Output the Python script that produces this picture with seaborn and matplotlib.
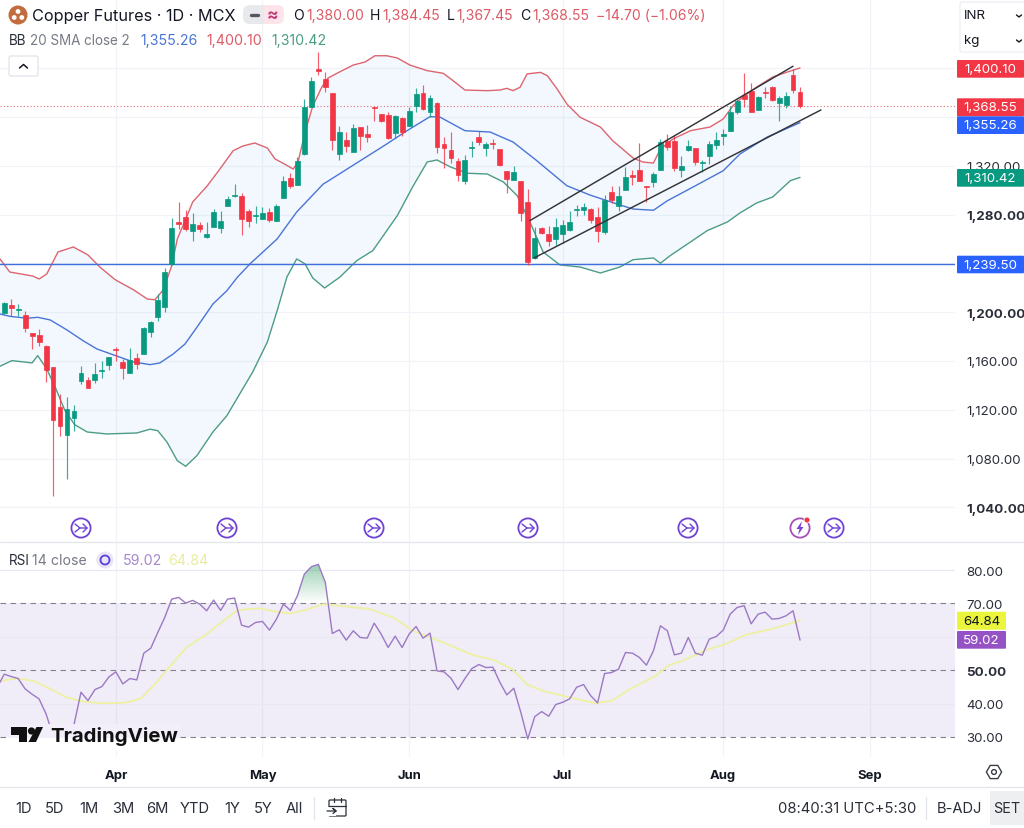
import numpy as np
import pandas as pd
import seaborn as sns
import matplotlib
matplotlib.use('Agg')
import matplotlib.pyplot as plt
from matplotlib.patches import Circle, FancyBboxPatch, Polygon, Rectangle

# Daily candles, one entry per bar
opens = [1199.1, 1206.1, 1201.5, 1197.9, 1183.2, 1181.1, 1172.5, 1154.9, 1122.1, 1099.1,
         1113.1, 1143.9, 1144.2, 1144.2, 1152.1, 1156.5, 1170.1, 1159.0, 1149.9, 1162.2,
         1166.0, 1183.8, 1196.3, 1204.0, 1239.5, 1274.1, 1277.7, 1266.8, 1271.7, 1261.9,
         1269.6, 1269.0, 1287.2, 1295.2, 1295.2, 1282.7, 1278.8, 1276.6, 1281.8, 1274.5,
         1293.6, 1309.9, 1304.5, 1329.6, 1368.4, 1399.2, 1391.1, 1379.8, 1329.9, 1341.1,
         1331.2, 1351.5, 1346.0, 1368.1, 1362.1, 1361.3, 1347.1, 1359.1, 1352.8, 1369.2,
         1379.6, 1364.0, 1371.4, 1337.6, 1333.1, 1324.1, 1307.7, 1334.8, 1343.3, 1334.8,
         1338.4, 1333.5, 1315.9, 1308.1, 1307.7, 1290.0, 1244.2, 1269.2, 1264.3, 1260.0,
         1264.3, 1267.3, 1284.0, 1284.0, 1284.5, 1277.7, 1266.0, 1298.7, 1287.2, 1299.9,
         1312.6, 1316.7, 1303.6, 1306.7, 1316.7, 1340.3, 1340.0, 1316.5, 1332.6, 1334.3,
         1322.5, 1327.7, 1337.2, 1344.6, 1348.7, 1364.3, 1377.7, 1381.0, 1365.4, 1380.4,
         1384.5, 1371.1, 1369.8, 1394.3, 1380.0]
highs = [1208.6, 1210.8, 1206.7, 1201.2, 1183.2, 1186.5, 1173.1, 1154.9, 1133.0, 1130.3,
         1124.2, 1155.7, 1147.2, 1158.1, 1160.3, 1163.0, 1171.2, 1161.7, 1170.7, 1166.6,
         1187.9, 1192.8, 1214.9, 1235.9, 1276.9, 1290.0, 1284.0, 1281.3, 1274.1, 1274.1,
         1284.5, 1282.9, 1295.4, 1305.0, 1297.7, 1284.5, 1286.8, 1285.9, 1285.1, 1288.6,
         1311.8, 1314.0, 1327.4, 1374.7, 1392.9, 1412.9, 1397.0, 1379.8, 1352.8, 1347.4,
         1354.2, 1351.5, 1353.1, 1368.4, 1362.6, 1364.3, 1361.6, 1359.7, 1367.9, 1383.7,
         1386.1, 1378.2, 1372.0, 1343.3, 1347.9, 1326.3, 1329.0, 1340.0, 1348.5, 1339.7,
         1341.9, 1333.5, 1315.9, 1320.0, 1307.7, 1300.7, 1269.6, 1270.0, 1270.9, 1277.2,
         1275.8, 1283.2, 1288.1, 1289.5, 1285.4, 1286.2, 1296.3, 1303.6, 1303.6, 1319.2,
         1316.5, 1338.6, 1303.6, 1314.6, 1341.9, 1346.0, 1345.2, 1328.2, 1341.3, 1334.3,
         1324.7, 1340.0, 1347.4, 1350.1, 1368.7, 1374.7, 1396.0, 1387.5, 1377.4, 1384.7,
         1385.1, 1377.4, 1380.7, 1399.2, 1384.45]
lows = [1198.5, 1197.1, 1196.6, 1183.5, 1169.8, 1172.5, 1143.0, 1049.2, 1098.8, 1063.3,
        1102.9, 1141.2, 1138.1, 1141.8, 1145.8, 1152.9, 1160.3, 1145.3, 1149.9, 1153.5,
        1166.0, 1179.9, 1192.8, 1199.9, 1238.7, 1268.2, 1266.5, 1258.6, 1265.9, 1260.8,
        1269.6, 1264.6, 1286.8, 1294.6, 1263.2, 1270.0, 1272.8, 1276.4, 1273.7, 1274.5,
        1293.6, 1301.8, 1304.5, 1329.0, 1368.4, 1394.6, 1380.2, 1333.1, 1324.7, 1331.5,
        1331.2, 1332.9, 1339.7, 1356.9, 1356.1, 1341.9, 1342.7, 1344.6, 1352.3, 1363.8,
        1365.9, 1359.7, 1330.4, 1318.2, 1322.2, 1307.7, 1305.0, 1326.9, 1337.2, 1327.7,
        1333.7, 1319.8, 1297.7, 1308.1, 1274.5, 1238.9, 1243.6, 1264.1, 1254.5, 1255.3,
        1256.7, 1266.8, 1278.6, 1279.9, 1273.1, 1257.8, 1264.1, 1289.5, 1283.2, 1299.9,
        1304.5, 1307.2, 1290.5, 1302.3, 1316.7, 1333.1, 1315.4, 1310.5, 1332.3, 1320.8,
        1315.1, 1321.4, 1333.7, 1337.0, 1348.7, 1362.4, 1367.9, 1364.3, 1365.4, 1375.5,
        1373.3, 1356.9, 1367.0, 1379.6, 1367.45]
closes = [1207.5, 1203.2, 1202.4, 1186.8, 1180.7, 1175.8, 1152.6, 1111.7, 1107.0, 1120.4,
          1118.8, 1150.2, 1138.1, 1149.6, 1152.9, 1163.0, 1169.3, 1154.3, 1160.6, 1157.8,
          1187.3, 1192.2, 1209.7, 1233.2, 1268.7, 1272.5, 1268.2, 1272.3, 1268.2, 1264.1,
          1282.3, 1274.5, 1292.5, 1296.0, 1276.4, 1274.5, 1279.6, 1281.3, 1275.5, 1287.0,
          1307.7, 1303.1, 1323.6, 1368.4, 1389.4, 1397.9, 1384.8, 1340.8, 1347.4, 1336.4,
          1350.9, 1344.4, 1343.8, 1367.3, 1356.6, 1343.0, 1360.5, 1347.6, 1364.8, 1378.5,
          1366.7, 1375.7, 1335.3, 1334.5, 1326.6, 1312.4, 1324.4, 1335.6, 1339.4, 1337.6,
          1337.6, 1320.6, 1308.9, 1314.6, 1281.3, 1241.4, 1260.8, 1265.1, 1258.6, 1269.6,
          1271.2, 1273.9, 1284.8, 1286.4, 1275.3, 1266.8, 1292.2, 1292.2, 1295.4, 1311.0,
          1311.0, 1307.2, 1302.6, 1313.5, 1339.7, 1335.6, 1318.1, 1320.0, 1336.2, 1323.1,
          1323.3, 1337.6, 1341.1, 1346.2, 1364.3, 1373.3, 1374.7, 1364.3, 1376.1, 1379.3,
          1373.9, 1375.2, 1377.4, 1382.0, 1368.55]

# Bollinger bands, read at the bends of each curve (bar position, price)
upper_bars = [-0.6, 0.8, 4.1, 5.0, 6.1, 7.7, 9.9, 12.0, 13.7, 15.9, 18.5, 20.5, 21.6, 22.8, 24.0,
              24.8, 26.2, 27.0, 29.1, 30.9, 32.8, 34.2, 35.9, 37.7, 38.8, 39.9, 41.4, 42.1, 43.1,
              44.2, 45.5, 46.4, 48.1, 50.0, 51.7, 53.1, 54.8, 56.3, 58.1, 60.6, 62.9, 64.3, 66.0,
              69.2, 71.0, 72.0, 72.9, 73.9, 74.9, 76.8, 77.8, 79.2, 80.6, 82.5, 85.4, 87.2, 90.1,
              91.5, 93.0, 94.0, 95.8, 98.3, 101.1, 103.0, 104.4, 105.8, 107.8, 110.1, 112.2, 114.0]
upper_vals = [1243.6, 1232.9, 1229.6, 1227.2, 1231.3, 1249.3, 1253.4, 1246.9, 1237.0, 1226.6, 1218.4,
              1210.8, 1210.2, 1218.4, 1238.1, 1260.0, 1279.0, 1290.3, 1303.6, 1317.3, 1332.3, 1336.2,
              1338.6, 1334.5, 1325.5, 1322.2, 1317.3, 1323.1, 1347.6, 1368.9, 1384.5, 1391.9, 1397.0,
              1402.5, 1405.0, 1410.1, 1410.1, 1408.3, 1402.5, 1397.9, 1395.7, 1389.7, 1382.0, 1381.5,
              1382.0, 1383.4, 1381.5, 1384.3, 1395.2, 1396.5, 1393.8, 1382.9, 1370.6, 1359.7, 1351.7,
              1340.3, 1326.3, 1323.0, 1322.2, 1333.7, 1341.9, 1348.7, 1351.7, 1358.3, 1369.2, 1376.3,
              1384.5, 1392.7, 1396.8, 1400.1]
middle_bars = [-0.6, 0.8, 3.3, 4.8, 6.6, 9.0, 11.3, 13.3, 16.2, 18.5, 20.9, 22.3, 24.2, 25.9, 27.6,
               29.9, 31.9, 33.4, 35.2, 39.1, 41.9, 45.7, 46.2, 51.4, 54.8, 57.7, 61.0, 62.4, 66.0,
               69.6, 72.9, 76.3, 80.6, 83.9, 87.8, 90.1, 93.0, 95.0, 98.7, 103.0, 105.4, 109.3, 114.0]
middle_vals = [1198.5, 1196.6, 1195.0, 1195.8, 1193.6, 1185.4, 1176.6, 1169.8, 1163.9, 1159.2, 1157.0,
               1158.4, 1165.7, 1173.9, 1187.6, 1206.7, 1217.6, 1228.6, 1239.5, 1260.0, 1282.1, 1305.0,
               1306.7, 1325.5, 1337.8, 1348.7, 1360.2, 1359.9, 1348.7, 1347.6, 1339.4, 1324.1, 1303.6,
               1296.0, 1288.6, 1284.5, 1283.5, 1291.3, 1302.6, 1315.9, 1329.6, 1343.5, 1355.26]
lower_bars = [-0.6, 1.1, 4.0, 4.8, 6.1, 7.3, 8.7, 10.1, 11.9, 14.7, 19.0, 20.9, 22.0, 23.3, 24.8,
              26.0, 27.6, 29.9, 31.9, 35.6, 37.7, 39.1, 40.5, 41.9, 43.1, 44.2, 45.9, 48.1, 50.5,
              52.8, 56.3, 58.6, 60.6, 62.0, 63.9, 66.4, 69.2, 71.5, 73.5, 75.3, 77.2, 79.6, 82.5,
              85.4, 88.2, 90.1, 93.0, 94.0, 95.4, 98.3, 100.7, 103.6, 105.4, 107.8, 110.1, 112.6, 114.0]
lower_vals = [1155.7, 1160.3, 1158.4, 1164.4, 1153.4, 1138.7, 1119.3, 1107.8, 1101.8, 1100.2, 1101.0,
              1104.1, 1102.9, 1093.7, 1078.3, 1073.7, 1082.4, 1101.8, 1115.2, 1151.0, 1175.6, 1201.2,
              1228.8, 1243.6, 1239.5, 1228.0, 1219.8, 1228.8, 1242.2, 1250.4, 1279.0, 1303.6, 1323.1,
              1324.7, 1319.0, 1313.8, 1313.2, 1306.7, 1295.4, 1273.9, 1249.3, 1238.7, 1237.0, 1232.1,
              1237.0, 1243.0, 1244.4, 1240.1, 1246.3, 1257.5, 1266.8, 1273.9, 1281.3, 1289.5, 1294.4,
              1307.7, 1310.42]

# Hand drawn channel, horizontal level and last price
channel_top_bars = [75.3, 113.0]
channel_top_vals = [1275.0, 1401.5]
channel_bottom_bars = [75.9, 117.0]
channel_bottom_vals = [1244.4, 1365.7]
level_price = 1239.50
last_price = 1368.55

# RSI per bar, plus its moving average read at the bends
rsi_bars = [-0.6] + list(range(115))
rsi_vals = [46.4, 48.8, 48.1, 47.5, 44.4, 42.8, 41.4, 36.9, 30.4, 29.4, 33.6,
            33.7, 43.4, 40.9, 44.2, 45.1, 48.0, 49.5, 45.9, 47.5, 47.1,
            55.1, 56.6, 61.3, 65.8, 71.3, 71.8, 70.1, 70.9, 69.8, 67.8,
            71.0, 67.9, 71.3, 71.6, 63.5, 62.9, 64.3, 64.6, 62.0, 65.3,
            69.8, 67.9, 72.3, 78.8, 81.0, 81.7, 76.3, 61.0, 62.1, 59.0,
            61.8, 59.8, 59.6, 64.1, 60.8, 56.8, 60.2, 56.8, 60.8, 63.1,
            59.6, 61.1, 49.8, 49.5, 47.6, 44.2, 47.5, 50.5, 51.7, 50.8,
            50.9, 46.4, 42.6, 44.6, 37.4, 29.4, 36.1, 37.6, 36.2, 39.7,
            40.4, 41.4, 44.9, 45.7, 42.4, 40.2, 49.0, 49.3, 50.3, 55.3,
            55.1, 53.8, 51.5, 55.8, 63.3, 61.8, 54.6, 55.1, 59.8, 55.1,
            54.5, 59.3, 60.1, 62.0, 66.8, 68.8, 69.3, 63.9, 66.8, 67.4,
            65.3, 65.5, 66.3, 67.8, 59.02]
rsi_ma_bars = [-0.6, 1.8, 4.2, 6.6, 8.9, 11.3, 14.2, 17.1, 19.5, 21.4, 23.8, 26.1, 29.0, 31.4, 33.3,
               34.7, 36.6, 39.0, 41.0, 43.3, 45.7, 48.1, 52.4, 55.7, 58.6, 62.9, 67.2, 70.1, 72.8,
               74.9, 77.5, 80.9, 84.7, 87.1, 89.5, 93.3, 95.2, 97.1, 100.9, 103.3, 106.2, 109.5, 114.0]
rsi_ma_vals = [46.8, 47.5, 46.8, 44.4, 41.9, 40.6, 40.1, 40.2, 41.4, 45.4, 51.3, 56.8, 60.8, 64.8, 67.8,
               68.3, 68.5, 67.5, 67.0, 68.1, 69.8, 69.3, 68.3, 65.8, 61.8, 58.3, 54.5, 53.1, 50.3,
               45.7, 43.6, 41.9, 40.1, 40.9, 44.2, 48.3, 51.5, 52.8, 56.3, 57.8, 60.6, 62.1, 64.84]

# Axis ticks
month_bars = [16, 37, 58, 80, 103, 124]
month_labels = ["Apr", "May", "Jun", "Jul", "Aug", "Sep"]
price_ticks = [1040, 1080, 1120, 1160, 1200, 1240, 1280, 1320, 1360, 1400]
price_labels = ["1,040.00", "1,080.00", "1,120.00", "1,160.00", "1,200.00", "",
                "1,280.00", "1,320.00", "", ""]
bold_prices = ["1,200.00", "1,280.00", "1,040.00"]
rsi_ticks = [30, 40, 50, 60, 70, 80]
rsi_labels = ["30.00", "40.00", "50.00", "", "70.00", "80.00"]

UP = "#089981"
DOWN = "#f23645"
TEXT = "#131722"
GRID = "#f1f3f8"
FONT = ["Inter", "DejaVu Sans"]

sns.set_theme(style="white")
plt.rcParams["font.family"] = FONT

W, H = 1024, 829
fig = plt.figure(figsize=(W / 100, H / 100), dpi=100, facecolor="white")


def px_axes(left, top, right, bottom):
    return fig.add_axes([left / W, 1 - bottom / H, (right - left) / W, (bottom - top) / H])


ax = px_axes(0, 0, 955, 542)
ax_rsi = px_axes(0, 543, 955, 758)
ui = fig.add_axes([0, 0, 1, 1])
ui.set_xlim(0, W)
ui.set_ylim(H, 0)
ui.axis("off")

# --- price panel ---
for b in month_bars:
    ax.axvline(b, color=GRID, lw=0.9, zorder=0)
for p in price_ticks:
    ax.axhline(p, color=GRID, lw=0.9, zorder=0)

band_x = upper_bars + lower_bars[::-1]
band_y = upper_vals + lower_vals[::-1]
ax.fill(band_x, band_y, color="#1e88e5", alpha=0.055, lw=0, zorder=1)
sns.lineplot(x=upper_bars, y=upper_vals, ax=ax, color="#dc6570", lw=1.0, estimator=None, sort=False, zorder=2)
sns.lineplot(x=middle_bars, y=middle_vals, ax=ax, color="#4a74d6", lw=1.0, estimator=None, sort=False, zorder=2)
sns.lineplot(x=lower_bars, y=lower_vals, ax=ax, color="#4c9c86", lw=1.0, estimator=None, sort=False, zorder=2)

ax.axhline(level_price, color="#3f6fdc", lw=1.0, zorder=2)
ax.axhline(last_price, color="#e8707a", lw=0.8, ls=(0, (1, 2)), zorder=2)

candles = pd.DataFrame({"open": opens, "high": highs, "low": lows, "close": closes})
candles["bar"] = candles.index
candles["color"] = np.where(candles["close"] >= candles["open"], UP, DOWN)
ax.vlines(candles["bar"], candles["low"], candles["high"], colors=candles["color"], lw=0.85, alpha=0.8, zorder=3)
ax.bar(candles["bar"], (candles["close"] - candles["open"]).abs(),
       bottom=candles[["open", "close"]].min(axis=1), width=0.7,
       color=candles["color"], edgecolor=candles["color"], lw=0.5, zorder=4)

sns.lineplot(x=channel_top_bars, y=channel_top_vals, ax=ax, color="#33343a", lw=1.05, estimator=None, zorder=5)
sns.lineplot(x=channel_bottom_bars, y=channel_bottom_vals, ax=ax, color="#33343a", lw=1.05, estimator=None, zorder=5)

ax.set_xlim(-0.6, 136.2)
ax.set_ylim(1012.5, 1456.6)
ax.set_xticks([])
ax.yaxis.tick_right()
ax.set_yticks(price_ticks)
ax.set_yticklabels(price_labels)
ax.tick_params(axis="y", length=0, pad=8, labelsize=9.6, labelcolor="#2a2e39")
for lab in ax.get_yticklabels():
    if lab.get_text() in bold_prices:
        lab.set_fontweight("bold")
ax.set_xlabel("")
ax.set_ylabel("")

# --- RSI panel ---
for b in month_bars:
    ax_rsi.axvline(b, color=GRID, lw=0.9, zorder=0)
for v in [40, 60, 80]:
    ax_rsi.axhline(v, color="#e9e7f1", lw=0.9, zorder=1)
ax_rsi.axhspan(30, 70, color="#7e57c2", alpha=0.11, lw=0, zorder=0.5)
for v in [30, 50, 70]:
    ax_rsi.axhline(v, color="#83828c", lw=0.8, ls=(0, (5, 4)), zorder=2)

# Overbought gradient above 70, clipped to the RSI outline
above = ax_rsi.fill_between(rsi_bars, 70, rsi_vals, where=np.array(rsi_vals) > 70, interpolate=True, color="none")
grad = np.zeros((64, 1, 4))
grad[..., :3] = matplotlib.colors.to_rgb("#2e9e62")
grad[..., 3] = np.linspace(0.5, 0.0, 64)[:, None]
img = ax_rsi.imshow(grad, extent=[0, 114, 70, 82], aspect="auto", origin="upper", zorder=1.5)
clip = above.get_paths()
img.set_clip_path(matplotlib.path.Path.make_compound_path(*clip), ax_rsi.transData)

sns.lineplot(x=rsi_ma_bars, y=rsi_ma_vals, ax=ax_rsi, color="#eef0a2", lw=1.3, estimator=None, sort=False, zorder=3)
sns.lineplot(x=rsi_bars, y=rsi_vals, ax=ax_rsi, color="#9b79c4", lw=1.0, estimator=None, sort=False, zorder=4)

ax_rsi.set_xlim(-0.6, 136.2)
ax_rsi.set_ylim(24.0, 88.4)
ax_rsi.set_xticks(month_bars)
ax_rsi.set_xticklabels(month_labels, fontweight="bold")
ax_rsi.yaxis.tick_right()
ax_rsi.set_yticks(rsi_ticks)
ax_rsi.set_yticklabels(rsi_labels)
ax_rsi.tick_params(axis="y", length=0, pad=8, labelsize=9.6, labelcolor="#2a2e39")
ax_rsi.tick_params(axis="x", length=0, pad=9, labelsize=9.4, labelcolor=TEXT)
ax_rsi.get_yticklabels()[2].set_fontweight("bold")
ax_rsi.set_xlabel("")
ax_rsi.set_ylabel("")

sns.despine(ax=ax, left=True, bottom=True, right=True, top=True)
sns.despine(ax=ax_rsi, left=True, bottom=True, right=True, top=True)


# --- chrome drawn in pixel coordinates ---
def t(x, y, s, color=TEXT, size=10.2, ha="left", weight="normal"):
    ui.text(x, y, s, color=color, fontsize=size, ha=ha, va="center", fontweight=weight)


def badge(y0, y1, label, color, x0=957, x1=1024, fg="white", cx=None):
    ui.add_patch(FancyBboxPatch((x0 + 1, y0 + 1), x1 - x0 - 2, y1 - y0 - 2, boxstyle="round,pad=1",
                                fc=color, ec=color, lw=0, zorder=6))
    ui.text(cx if cx else (x0 + x1) / 2, (y0 + y1) / 2, label, color=fg, fontsize=9.6, ha="center",
            va="center", zorder=7)


def flow_icon(x, y=529):
    ui.add_patch(Circle((x, y), 9.6, fc="white", ec="#6f42d6", lw=1.3, zorder=6))
    ui.plot([x - 6, x - 1, x + 6], [y - 4, y, y], color="#6f42d6", lw=1.0, zorder=7)
    ui.plot([x - 6, x - 1], [y + 4, y], color="#6f42d6", lw=1.0, zorder=7)
    ui.plot([x + 2, x + 6, x + 2], [y - 4, y, y + 4], color="#6f42d6", lw=1.0, zorder=7)


# separators
ui.plot([0, W], [542.5, 542.5], color="#e3e5ec", lw=0.9)
ui.plot([0, W], [788, 788], color="#e3e5ec", lw=0.9)

# header row
ui.add_patch(Circle((18, 16), 9.5, fc="#c26b3c", ec="none"))
for dx, dy in [(0, -3.5), (-3.8, 2.5), (3.8, 2.5)]:
    ui.add_patch(Circle((18 + dx, 16 + dy), 2.4, fc="white", ec="none"))
t(32, 16, "Copper Futures · 1D · MCX", size=11.7)
ui.add_patch(FancyBboxPatch((250, 13), 10, 5, boxstyle="round,pad=7", fc="#e8e9ec", ec="none"))
ui.add_patch(FancyBboxPatch((267, 13), 10, 5, boxstyle="round,pad=7", fc="#fce4ea", ec="none"))
ui.add_patch(Rectangle((257, 6), 7, 19, fc="#e8e9ec", ec="none"))
ui.add_patch(Rectangle((264, 6), 6, 19, fc="#fce4ea", ec="none"))
ui.plot([251, 258], [15.5, 15.5], color="#55575f", lw=2.4, solid_capstyle="round")
t(272.5, 15, "≈", color="#c2397a", size=12.5, ha="center", weight="bold")

red = "#dc5a66"
t(293, 16, "O", size=10.1)
t(306, 16, "1,380.00", color=red, size=10.1)
t(370, 16, "H", size=10.1)
t(382.5, 16, "1,384.45", color=red, size=10.1)
t(446.5, 16, "L", size=10.1)
t(456.5, 16, "1,367.45", color=red, size=10.1)
t(520.5, 16, "C", size=10.1)
t(532.5, 16, "1,368.55", color=red, size=10.1)
t(596.5, 16, "−14.70 (−1.06%)", color=red, size=10.1)

t(9, 41, "BB", color="#2a2e39", size=9.7)
t(30, 41, "20 SMA close 2", color="#787b86", size=9.7)
t(140, 41, "1,355.26", color="#4a74d6")
t(206, 41, "1,400.10", color="#dc5a66")
t(271, 41, "1,310.42", color="#4c9c86")

ui.add_patch(FancyBboxPatch((11, 59), 25, 16, boxstyle="round,pad=2", fc="white", ec="#e0e3eb", lw=0.9))
ui.plot([19.5, 23.5, 27.5], [69, 65.5, 69], color=TEXT, lw=1.1)

# unit selector
ui.add_patch(FancyBboxPatch((962, 5), 70, 46, boxstyle="round,pad=2", fc="white", ec="#eceef3", lw=0.9, zorder=6))
ui.text(964, 16, "INR", color=TEXT, fontsize=9.6, va="center", zorder=7)
ui.text(964, 41, "kg", color=TEXT, fontsize=9.6, va="center", zorder=7)
for yy in [17, 42]:
    ui.plot([1016.5, 1019, 1021.5], [yy - 1, yy + 1, yy - 1], color=TEXT, lw=1.0, zorder=7)

# price badges
badge(61, 78.7, "1,400.10", "#f23645")
badge(99.3, 117.3, "1,368.55", "#f23645")
badge(117.3, 135, "1,355.26", "#2962ff")
badge(170, 187.7, "1,310.42", "#089981")
badge(256.7, 274.3, "1,239.50", "#2962ff")
badge(612.7, 630.7, "64.84", "#eaf53c", x0=957, x1=1006, fg=TEXT)
badge(632, 649.7, "59.02", "#9452c4", x0=957, x1=1006)

# event icons
for x in [81, 227, 374, 528, 688, 834]:
    flow_icon(x)
ui.add_patch(Circle((800, 529), 9.6, fc="white", ec="#a550b8", lw=1.3, zorder=6))
ui.add_patch(Polygon([(802, 522), (796.5, 530), (799.5, 530), (798, 536), (803.5, 528), (800.5, 528)],
                     fc="#7a3fd6", ec="none", zorder=7))
ui.add_patch(Circle((807, 521), 3, fc="#f23645", ec="white", lw=0.6, zorder=8))

# RSI legend
t(9, 561, "RSI", color="#2a2e39", size=9.7)
t(32, 561, "14 close", color="#787b86", size=10.2)
ui.add_patch(Circle((105, 561), 8.5, fc="#e9e4f6", ec="none"))
ui.add_patch(Circle((105, 561), 4.5, fc="none", ec="#5b3fd6", lw=1.3))
t(123, 561, "59.02", color="#a588cd")
t(168, 561, "64.84", color="#e9ec9f")

# watermark sits on top of the RSI lines: tinted above the 30 line, white below it
ui.add_patch(Rectangle((9, 725), 171, 13.5, fc="#f2eefa", ec="none", zorder=5))
ui.add_patch(Rectangle((9, 738.5), 171, 12, fc="white", ec="none", zorder=5))
ui.add_patch(Polygon([(11, 728), (27, 728), (27, 743), (19, 743), (19, 736), (11, 736)], fc="#111", ec="none", zorder=6))
ui.add_patch(Circle((31.5, 732), 3.6, fc="#111", ec="none", zorder=6))
ui.add_patch(Polygon([(36.5, 728), (43, 728), (36, 743), (28.5, 743)], fc="#111", ec="none", zorder=6))
ui.text(50, 736.5, "TradingView", color="#111", fontsize=14.7, fontweight="bold", va="center", zorder=6)

# gear on the time axis
hex_a = np.deg2rad([0, 60, 120, 180, 240, 300])
ui.add_patch(Polygon(np.c_[994 + 7.6 * np.cos(hex_a), 773 + 7.6 * np.sin(hex_a)], fc="none", ec="#3c3f48", lw=1.0))
ui.add_patch(Circle((994, 773), 2.4, fc="none", ec="#3c3f48", lw=1.0))

# bottom toolbar
for x, s in zip([24, 55, 89, 123, 157, 195, 232, 263, 294],
                ["1D", "5D", "1M", "3M", "6M", "YTD", "1Y", "5Y", "All"]):
    t(x, 809, s, ha="center", size=10.6, color="#2a2e39")
ui.plot([313.5, 313.5], [798, 820], color="#e3e5ec", lw=0.9)
ui.add_patch(FancyBboxPatch((330, 802), 15, 14, boxstyle="round,pad=1", fc="white", ec="#2a2e39", lw=0.9))
ui.plot([329, 346], [806.5, 806.5], color="#2a2e39", lw=0.9)
ui.plot([334, 334], [799, 803], color="#2a2e39", lw=0.9)
ui.plot([341, 341], [799, 803], color="#2a2e39", lw=0.9)
ui.add_patch(Rectangle((326, 808), 10, 9, fc="white", ec="none"))
ui.plot([327, 336, 333, 336, 333], [812, 812, 809.5, 812, 814.5], color="#2a2e39", lw=0.9)

t(778, 809, "08:40:31 UTC+5:30", color="#2a2e39", size=10.7)
ui.plot([926, 926], [798, 820], color="#e3e5ec", lw=0.9)
t(937, 809, "B-ADJ", color="#2a2e39", size=10.6)
ui.add_patch(Rectangle((990, 792), 34, 34, fc="#eeeff1", ec="none"))
ui.text(1007, 809, "SET", color="#2a2e39", fontsize=10.4, ha="center", va="center")

fig.savefig("out.png", dpi=100, facecolor="white")
plt.close(fig)
